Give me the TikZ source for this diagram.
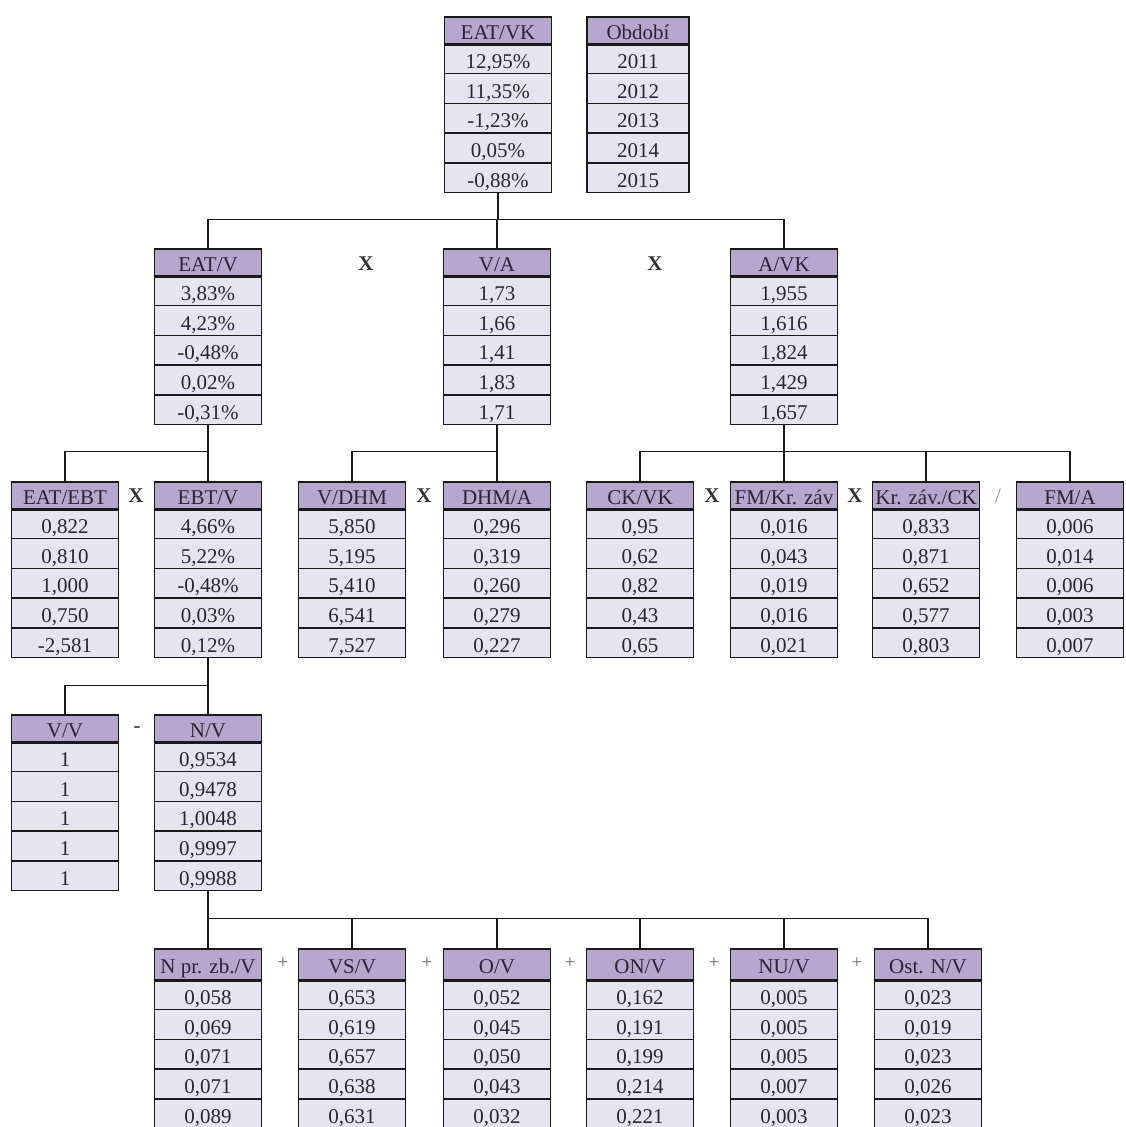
\documentclass[tikz,border=0pt]{standalone}
\usepackage{fontspec}
\setmainfont{Liberation Serif}
\usetikzlibrary{positioning}
\definecolor{hlavafill}{RGB}{181,167,206}
\definecolor{radekfill}{RGB}{231,228,241}
\definecolor{textdark}{RGB}{42,36,52}
\definecolor{znakgray}{RGB}{150,150,150}

% one column: header + five rows
\newcommand\tabulka[5][]{%
  \begin{scope}[#1]
    \node[hlava] (#2-0) at (#3) {#4};
    \foreach \v [count=\i] in {#5} {
      \pgfmathtruncatemacro\j{\i-1}
      \node[radek, below=0pt of #2-\j] (#2-\i) {\v};
    }
    \draw[line width=3pt, black!90] (#2-0.south west) -- (#2-0.south east);
  \end{scope}}

\begin{document}
\begin{tikzpicture}[x=1pt,y=-1pt,
  bunka/.style={draw=black!90, line width=1.4pt, minimum width=107pt,
    inner sep=0pt, outer sep=0pt, text=textdark,
    font=\fontsize{21}{24}\selectfont},
  hlava/.style={bunka, fill=hlavafill, anchor=north, minimum height=27pt,
    text height=20pt, text depth=3pt},
  radek/.style={bunka, fill=radekfill, minimum height=29.7pt,
    text height=22pt, text depth=3pt},
  spoj/.style={line width=1.4pt, black!90},
  znak/.style={font=\fontsize{21}{24}\selectfont\bfseries, text=black!80},
  plus/.style={font=\fontsize{19}{21}\selectfont, text=black!60}]
  \useasboundingbox (0,0) rectangle (1125,1127);
  \clip (0,0) rectangle (1125,1127);

  % level 1
  \tabulka{eatvk}{498,17}{EAT/VK}{{12,95\%},{11,35\%},{-1,23\%},{0,05\%},{-0,88\%}}
  \tabulka[bunka/.append style={minimum width=102pt}]{obdobi}{638,17}{Období}{2011,2012,2013,2014,2015}

  % level 2
  \tabulka{eatv}{208,249}{EAT/V}{{3,83\%},{4,23\%},{-0,48\%},{0,02\%},{-0,31\%}}
  \tabulka{va}{497,249}{V/A}{{1,73},{1,66},{1,41},{1,83},{1,71}}
  \tabulka{avk}{784,249}{A/VK}{{1,955},{1,616},{1,824},{1,429},{1,657}}
  \node[znak] (op1) at (366,264) {X};
  \node[znak] (op2) at (655,264) {X};

  % level 3
  \tabulka{eatebt}{65,482}{EAT/EBT}{{0,822},{0,810},{1,000},{0,750},{-2,581}}
  \tabulka{ebtv}{208,482}{EBT/V}{{4,66\%},{5,22\%},{-0,48\%},{0,03\%},{0,12\%}}
  \tabulka{vdhm}{352,482}{V/DHM}{{5,850},{5,195},{5,410},{6,541},{7,527}}
  \tabulka{dhma}{497,482}{DHM/A}{{0,296},{0,319},{0,260},{0,279},{0,227}}
  \tabulka{ckvk}{640,482}{CK/VK}{{0,95},{0,62},{0,82},{0,43},{0,65}}
  \tabulka{fmkz}{784,482}{FM/Kr. záv}{{0,016},{0,043},{0,019},{0,016},{0,021}}
  \tabulka{kzck}{926,482}{Kr. záv./CK}{{0,833},{0,871},{0,652},{0,577},{0,803}}
  \tabulka{fma}{1070,482}{FM/A}{{0,006},{0,014},{0,006},{0,003},{0,007}}
  \node[znak] (op3) at (136,496) {X};
  \node[znak] (op4) at (424,496) {X};
  \node[znak] (op5) at (712,496) {X};
  \node[znak] (op6) at (855,496) {X};
  \node[plus, font=\fontsize{22}{24}\selectfont, text=znakgray] (op7) at (998,496) {/};

  % level 4
  \tabulka{vv}{65,715}{V/V}{1,1,1,1,1}
  \tabulka{nv}{208,715}{N/V}{{0,9534},{0,9478},{1,0048},{0,9997},{0,9988}}
  \node[znak, text=black!70] (op8) at (137,730) {-};

  % level 5
  \begin{scope}[hlava/.append style={minimum height=31pt}]
    \tabulka{npzv}{208,949}{N pr. zb./V}{{0,058},{0,069},{0,071},{0,071},{0,089}}
    \tabulka{vsv}{352,949}{VS/V}{{0,653},{0,619},{0,657},{0,638},{0,631}}
    \tabulka{ov}{497,949}{O/V}{{0,052},{0,045},{0,050},{0,043},{0,032}}
    \tabulka{onv}{640,949}{ON/V}{{0,162},{0,191},{0,199},{0,214},{0,221}}
    \tabulka{nuv}{784,949}{NU/V}{{0,005},{0,005},{0,005},{0,007},{0,003}}
    \tabulka{ostnv}{928,949}{Ost. N/V}{{0,023},{0,019},{0,023},{0,026},{0,023}}
  \end{scope}
  \foreach \x [count=\k from 9] in {283,427,570,714,857}
    \node[plus] (op\k) at (\x,963) {+};

  % connectors
  \coordinate (b1) at ([yshift=-27pt]eatvk-5.south);
  \draw[spoj] (eatvk-5.south) -- (b1);
  \foreach \n in {eatv,va,avk}
    \draw[spoj] (\n-0.north) |- (b1);

  \coordinate (b2) at ([yshift=-27pt]eatv-5.south);
  \draw[spoj] (eatv-5.south) -- (b2);
  \foreach \n in {eatebt,ebtv}
    \draw[spoj] (\n-0.north) |- (b2);

  \coordinate (b3) at ([yshift=-27pt]va-5.south);
  \draw[spoj] (va-5.south) -- (b3);
  \foreach \n in {vdhm,dhma}
    \draw[spoj] (\n-0.north) |- (b3);

  \coordinate (b4) at ([yshift=-27pt]avk-5.south);
  \draw[spoj] (avk-5.south) -- (b4);
  \foreach \n in {ckvk,fmkz,kzck,fma}
    \draw[spoj] (\n-0.north) |- (b4);

  \coordinate (b5) at ([yshift=-28pt]ebtv-5.south);
  \draw[spoj] (ebtv-5.south) -- (b5);
  \foreach \n in {vv,nv}
    \draw[spoj] (\n-0.north) |- (b5);

  \coordinate (b6) at ([yshift=-28pt]nv-5.south);
  \draw[spoj] (nv-5.south) -- (b6);
  \foreach \n in {npzv,vsv,ov,onv,nuv,ostnv}
    \draw[spoj] (\n-0.north) |- (b6);
\end{tikzpicture}
\end{document}
